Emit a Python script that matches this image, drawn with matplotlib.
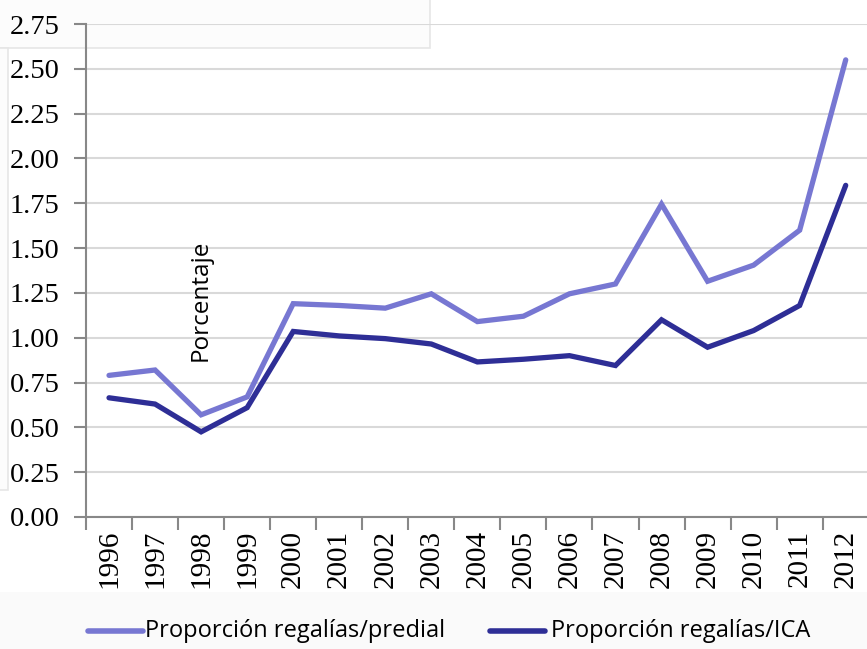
import matplotlib
matplotlib.use("Agg")
import matplotlib.pyplot as plt
from matplotlib.patches import Rectangle
from matplotlib.lines import Line2D

years = ["1996", "1997", "1998", "1999", "2000", "2001", "2002", "2003", "2004",
         "2005", "2006", "2007", "2008", "2009", "2010", "2011", "2012"]
predial = [0.79, 0.82, 0.57, 0.67, 1.19, 1.18, 1.165, 1.245, 1.09, 1.12, 1.245,
           1.30, 1.745, 1.315, 1.405, 1.60, 2.55]
ica = [0.665, 0.63, 0.475, 0.61, 1.035, 1.01, 0.995, 0.965, 0.865, 0.88, 0.90,
       0.845, 1.10, 0.947, 1.04, 1.18, 1.85]
yticks = [0.0, 0.25, 0.5, 0.75, 1.0, 1.25, 1.5, 1.75, 2.0, 2.25, 2.5, 2.75]
labels = ["Proporción regalías/predial", "Proporción regalías/ICA"]
c_pred = "#7777d2"
c_ica = "#2e2e96"

W, H = 867, 649
fig = plt.figure(figsize=(W / 100, H / 100), dpi=100)
fig.patch.set_facecolor("white")

def px(x0, y0, x1, y1, **kw):
    r = Rectangle((x0 / W, 1 - y1 / H), (x1 - x0) / W, (y1 - y0) / H,
                  transform=fig.transFigure, **kw)
    fig.patches.append(r)

# background artifacts
px(-5, 592, W + 5, H + 5, facecolor="#fafafa", edgecolor="none", zorder=-2)
px(-5, -5, 430, 48, facecolor="#fcfcfc", edgecolor="#e6e6e6", lw=1.2, zorder=-2)
px(-5, 48, 8, 490, facecolor="#fcfcfc", edgecolor="#e6e6e6", lw=1.2, zorder=-2)

ax = fig.add_axes([86 / W, 1 - 517 / H, 1 - 86 / W + 0.002, (517 - 24) / H])
ax.set_zorder(2)
ax.patch.set_alpha(0)
x = list(range(len(years)))
ax.plot(x, predial, color=c_pred, lw=3.8, solid_capstyle="round", solid_joinstyle="miter", zorder=3)
ax.plot(x, ica, color=c_ica, lw=3.8, solid_capstyle="round", solid_joinstyle="miter", zorder=3)

ax.set_xlim(-0.5, len(years) - 0.5)
ax.set_ylim(0, 2.7501)
ax.set_yticks(yticks)
ax.set_yticklabels([f"{v:.2f}" for v in yticks], fontfamily="Liberation Serif", fontsize=20.5)
ax.yaxis.grid(True, color="#d9d9d9", lw=1.5)
ax.set_axisbelow(True)

ax.set_xticks(x)
ax.set_xticklabels(years, rotation=90, fontfamily="Liberation Serif", fontsize=21)
ax.set_xticks([i - 0.5 for i in range(len(years) + 1)], minor=True)
ax.tick_params(axis="x", which="major", length=0, pad=9)
ax.tick_params(axis="x", which="minor", length=9, width=1.5, color="#888888")
ax.tick_params(axis="y", length=9, width=1.5, color="#888888", pad=10)

for s in ["top", "right"]:
    ax.spines[s].set_visible(False)
for s in ["left", "bottom"]:
    ax.spines[s].set_color("#888888")
    ax.spines[s].set_linewidth(1.5)

ax.text(1.98, 1.21, "Porcentaje", rotation=90, fontfamily="Open Sans",
        fontsize=17.5, ha="center", va="center", zorder=4)

# legend
ly = 1 - 631 / H
fig.add_artist(Line2D([88 / W, 143 / W], [ly, ly], color=c_pred, lw=4,
                      solid_capstyle="round", transform=fig.transFigure))
fig.add_artist(Line2D([490 / W, 545 / W], [ly, ly], color=c_ica, lw=4,
                      solid_capstyle="round", transform=fig.transFigure))
fig.text(145 / W, ly, labels[0], fontfamily="Open Sans", fontsize=17,
         ha="left", va="center")
fig.text(551 / W, ly, labels[1], fontfamily="Open Sans", fontsize=17,
         ha="left", va="center")

fig.savefig("out.png", dpi=100)
